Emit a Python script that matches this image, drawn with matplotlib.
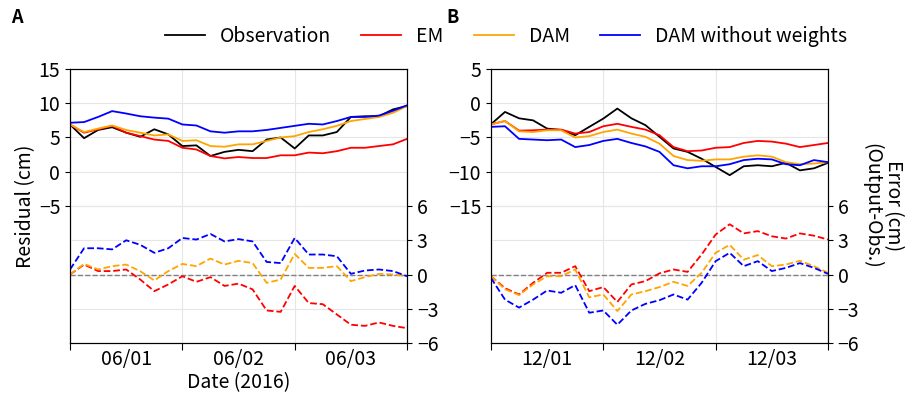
import pandas as pd
import matplotlib.pyplot as plt
import matplotlib.dates as mdates

plt.rcParams['font.family'] = ['Noto Sans CJK KR', 'DejaVu Sans']

# 3-hourly values
times_a = pd.date_range('2016-06-01', periods=25, freq='3h')
times_b = pd.date_range('2016-12-01', periods=25, freq='3h')

# Panel A - residual (cm)
obs_a = [6.9, 4.9, 6.1, 6.5, 5.7, 5.1, 6.2, 5.45, 3.75, 3.85, 2.3, 2.9, 3.2,
         3.0, 4.7, 5.0, 3.4, 5.3, 5.3, 5.8, 8.0, 8.1, 8.1, 9.1, 9.6]
em_a = [6.9, 5.7, 6.2, 6.7, 5.7, 5.2, 4.7, 4.5, 3.5, 3.25, 2.3, 1.95, 2.15,
        2.0, 2.0, 2.4, 2.4, 2.8, 2.7, 3.0, 3.5, 3.5, 3.75, 4.0, 4.8]
dam_a = [6.9, 5.8, 6.3, 6.75, 6.1, 5.7, 5.3, 5.45, 4.5, 4.6, 3.75, 3.65, 4.0,
         4.0, 4.5, 5.0, 5.2, 5.8, 6.2, 6.7, 7.4, 7.7, 8.0, 8.6, 9.6]
damnw_a = [7.15, 7.25, 8.0, 8.85, 8.5, 8.1, 7.9, 7.75, 6.9, 6.75, 5.9, 5.7, 5.9,
           5.9, 6.1, 6.4, 6.7, 7.0, 6.9, 7.4, 8.0, 8.0, 8.2, 8.9, 9.7]

# Panel A - error (output - obs, cm)
err_em_a = [0.0, 0.87, 0.3, 0.3, 0.44, -0.44, -1.46, -0.87, -0.15, -0.64, -0.23, -1.0, -0.8,
            -1.3, -3.15, -3.27, -1.0, -2.5, -2.6, -3.5, -4.4, -4.5, -4.2, -4.5, -4.7]
err_dam_a = [0.0, 0.93, 0.44, 0.73, 0.87, 0.29, -0.52, 0.3, 0.93, 0.73, 1.4, 0.87, 1.2,
             1.0, -0.73, -0.44, 1.8, 0.58, 0.58, 0.73, -0.58, -0.23, 0.06, 0.0, -0.15]
err_damnw_a = [0.44, 2.3, 2.3, 2.2, 3.0, 2.6, 1.9, 2.3, 3.2, 3.06, 3.55, 2.9, 3.1,
               2.9, 1.1, 1.0, 3.2, 1.75, 1.75, 1.6, 0.06, 0.35, 0.44, 0.3, -0.15]

# Panel B - residual (cm)
obs_b = [-3.07, -1.27, -2.2, -2.5, -3.7, -3.9, -4.67, -3.45, -2.24, -0.78, -2.2, -3.2, -4.9,
         -6.6, -7.1, -8.1, -9.3, -10.5, -9.2, -9.05, -9.2, -8.7, -9.8, -9.5, -8.7]
em_b = [-3.07, -2.6, -4.0, -3.95, -3.85, -3.85, -4.43, -4.2, -3.36, -3.0, -3.45, -3.85, -4.67,
        -6.4, -7.0, -6.9, -6.5, -6.4, -5.8, -5.5, -5.6, -5.9, -6.4, -6.1, -5.8]
dam_b = [-3.07, -2.6, -4.1, -4.2, -3.95, -3.95, -5.0, -4.8, -4.2, -3.85, -4.43, -4.9, -5.9,
         -7.7, -8.3, -8.4, -8.2, -8.2, -7.8, -7.6, -7.8, -8.6, -8.9, -8.8, -8.6]
damnw_b = [-3.45, -3.36, -5.2, -5.3, -5.4, -5.3, -6.4, -6.1, -5.5, -5.2, -5.8, -6.3, -7.1,
           -9.05, -9.5, -9.2, -9.2, -8.9, -8.3, -8.1, -8.2, -8.9, -9.05, -8.3, -8.6]

# Panel B - error (output - obs, cm)
err_em_b = [-0.15, -1.2, -1.75, -0.73, 0.15, 0.15, 0.73, -1.46, -1.1, -2.4, -0.87, -0.58, 0.1,
            0.44, 0.23, 1.75, 3.5, 4.4, 3.6, 3.8, 3.35, 3.15, 3.6, 3.4, 3.06]
err_dam_b = [-0.15, -1.3, -1.8, -0.87, -0.15, -0.15, 0.44, -2.0, -1.75, -3.2, -1.75, -1.46, -1.1,
             -0.64, -1.0, 0.15, 1.9, 2.6, 1.3, 1.7, 0.73, 0.87, 1.2, 0.73, 0.15]
err_damnw_b = [-0.3, -2.2, -2.9, -2.2, -1.4, -1.6, -0.93, -3.35, -3.15, -4.4, -3.15, -2.57, -2.25,
               -1.75, -2.2, -0.73, 1.17, 1.9, 0.73, 1.17, 0.3, 0.58, 1.0, 0.58, 0.06]

labels = ['Observation', 'EM', 'DAM', 'DAM without weights']
colors = ['black', 'red', 'orange', 'blue']

fig = plt.figure(figsize=(9.07, 3.96), dpi=100)
ax_a = fig.add_axes([0.0772, 0.1338, 0.3716, 0.692])
ax_b = fig.add_axes([0.5413, 0.1338, 0.3716, 0.692])

panels = [
    (ax_a, times_a, [obs_a, em_a, dam_a, damnw_a], [err_em_a, err_dam_a, err_damnw_a],
     (-25, 15), [-5, 0, 5, 10, 15]),
    (ax_b, times_b, [obs_b, em_b, dam_b, damnw_b], [err_em_b, err_dam_b, err_damnw_b],
     (-35, 5), [-15, -10, -5, 0, 5]),
]

for ax, t, res, err, ylim, yticks in panels:
    for vals, c, lab in zip(res, colors, labels):
        ax.plot(t, vals, color=c, lw=1.3, label=lab)
    ax.set_ylim(*ylim)
    ax.set_yticks(yticks)
    ax.set_xlim(t[0], t[-1])
    ax.xaxis.set_major_locator(mdates.DayLocator())
    ax.xaxis.set_major_formatter(plt.NullFormatter())
    ax.xaxis.set_minor_locator(mdates.HourLocator(byhour=12))
    ax.xaxis.set_minor_formatter(mdates.DateFormatter('%m/%d'))
    ax.tick_params(axis='x', which='major', length=5)
    ax.tick_params(axis='x', which='minor', length=0, labelsize=14, pad=4)
    ax.tick_params(axis='y', labelsize=14)
    ax.grid(True, color='#e6e6e6', lw=0.8)
    ax.set_axisbelow(True)

    ax2 = ax.twinx()
    ax2.axhline(0, color='gray', lw=1, ls='--')
    for vals, c in zip(err, colors[1:]):
        ax2.plot(t, vals, color=c, lw=1.3, ls='--')
    ax2.set_ylim(-6, 18)
    ax2.set_yticks([-6, -3, 0, 3, 6])
    ax2.tick_params(axis='y', labelsize=14)
    ax2.grid(True, axis='y', color='#e6e6e6', lw=0.8)
    ax2.set_axisbelow(True)
    if ax is ax_b:
        ax2.set_ylabel('Error (cm)\n(Output-Obs.)', fontsize=14, rotation=270,
                       labelpad=32, linespacing=1.0)

ax_a.set_ylabel('Residual (cm)', fontsize=14, labelpad=2)
ax_a.set_xlabel('Date (2016)', fontsize=14, labelpad=2)

fig.text(0.012, 0.955, 'A', fontsize=13, fontweight='bold', va='center')
fig.text(0.492, 0.955, 'B', fontsize=13, fontweight='bold', va='center')

handles, labs = ax_a.get_legend_handles_labels()
fig.legend(handles, labs, loc='center', bbox_to_anchor=(0.558, 0.908), ncol=4,
           frameon=False, fontsize=14, handlelength=2.06, columnspacing=1.55,
           handletextpad=0.77)

fig.savefig('out.png', dpi=100)
